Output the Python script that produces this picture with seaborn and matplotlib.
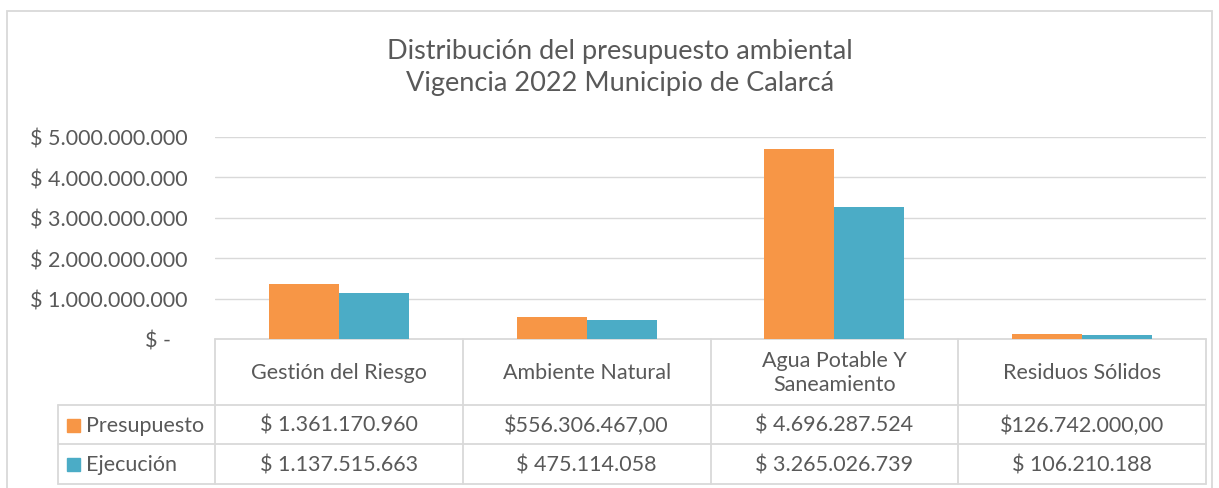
import pandas as pd
import matplotlib.pyplot as plt
import matplotlib.transforms as mtransforms
from matplotlib.patches import Rectangle
import seaborn as sns

# Datos
categorias = ["Gestión del Riesgo", "Ambiente Natural", "Agua Potable Y\nSaneamiento", "Residuos Sólidos"]
presupuesto = [1361170960, 556306467, 4696287524, 126742000]
ejecucion = [1137515663, 475114058, 3265026739, 106210188]
etiquetas_presupuesto = ["$ 1.361.170.960", "$556.306.467,00", "$ 4.696.287.524", "$126.742.000,00"]
etiquetas_ejecucion = ["$ 1.137.515.663", "$ 475.114.058", "$ 3.265.026.739", "$ 106.210.188"]
series = ["Presupuesto", "Ejecución"]
ticks_y = [0, 1e9, 2e9, 3e9, 4e9, 5e9]
etiquetas_y = ["$ -   ", "$ 1.000.000.000", "$ 2.000.000.000", "$ 3.000.000.000",
               "$ 4.000.000.000", "$ 5.000.000.000"]

colores = ["#F79646", "#4BACC6"]
gris_texto = "#595959"
gris_linea = "#D9D9D9"
fs = 15.5

df = pd.DataFrame({
    "Categoria": categorias * 2,
    "Serie": [series[0]] * 4 + [series[1]] * 4,
    "Valor": presupuesto + ejecucion,
})

sns.set_style("white")
plt.rcParams['font.family'] = ['Lato', 'DejaVu Sans']

fig = plt.figure(figsize=(12.19, 4.89), dpi=100)
ax = fig.add_axes([215 / 1219, 1 - 340 / 489, 991 / 1219, 202 / 489])

sns.barplot(data=df, x="Categoria", y="Valor", hue="Serie", palette=colores,
            width=0.565, gap=0, saturation=1, legend=False, linewidth=0, ax=ax, zorder=3)

ax.set_xlim(-0.5, 3.5)
ax.set_ylim(0, 5e9)
ax.set_yticks(ticks_y)
ax.set_yticklabels(etiquetas_y, fontsize=fs, color=gris_texto)
ax.tick_params(axis="y", length=0, pad=20)
ax.set_xticks([])
ax.set_xlabel("")
ax.set_ylabel("")
for s in ax.spines.values():
    s.set_visible(False)
for v in ticks_y[1:]:
    ax.axhline(v, color=gris_linea, lw=1, zorder=1)

# Tabla de datos
tr = mtransforms.blended_transform_factory(ax.transData, ax.transAxes)
izq = (58 - 215) / 991
y_head = -0.327
y_r1 = -0.520
y_r2 = -0.718
kw = dict(color=gris_linea, lw=1.3, clip_on=False, zorder=2)

ax.plot([-0.5, 3.5], [0, 0], transform=tr, **kw)
for x in [-0.5, 0.5, 1.5, 2.5, 3.5]:
    ax.plot([x, x], [0, y_r2], transform=tr, **kw)
for y in [y_head, y_r1, y_r2]:
    ax.plot([izq, 1], [y, y], transform=ax.transAxes, **kw)
ax.plot([izq, izq], [y_head, y_r2], transform=ax.transAxes, **kw)

for i, cat in enumerate(categorias):
    ax.text(i, y_head / 2, cat, transform=tr, ha="center", va="center",
            fontsize=fs, color=gris_texto, linespacing=1.3)
    ax.text(i, (y_head + y_r1) / 2, etiquetas_presupuesto[i], transform=tr,
            ha="center", va="center", fontsize=fs, color=gris_texto)
    ax.text(i, (y_r1 + y_r2) / 2, etiquetas_ejecucion[i], transform=tr,
            ha="center", va="center", fontsize=fs, color=gris_texto)

for j, (nombre, c) in enumerate(zip(series, colores)):
    yc = (y_head + y_r1) / 2 if j == 0 else (y_r1 + y_r2) / 2
    fig.patches.append(Rectangle((67 / 1219, 1 - (yc * -202 + 340 + 7) / 489), 13 / 1219, 13 / 489,
                                 transform=fig.transFigure, color=c))
    ax.text((86 - 215) / 991, yc, nombre, transform=ax.transAxes, ha="left", va="center",
            fontsize=fs, color=gris_texto)

# Titulo
fig.text(620 / 1219, 1 - 68 / 489, "Distribución del presupuesto ambiental\nVigencia 2022 Municipio de Calarcá",
         ha="center", va="center", fontsize=19.5, color=gris_texto, linespacing=1.35)

# Borde del grafico
fig.patches.append(Rectangle((7 / 1219, -0.05), 1205 / 1219, 1.05 - 12 / 489, transform=fig.transFigure,
                             fill=False, edgecolor=gris_linea, lw=1.3))

fig.savefig("out.png", dpi=100)
